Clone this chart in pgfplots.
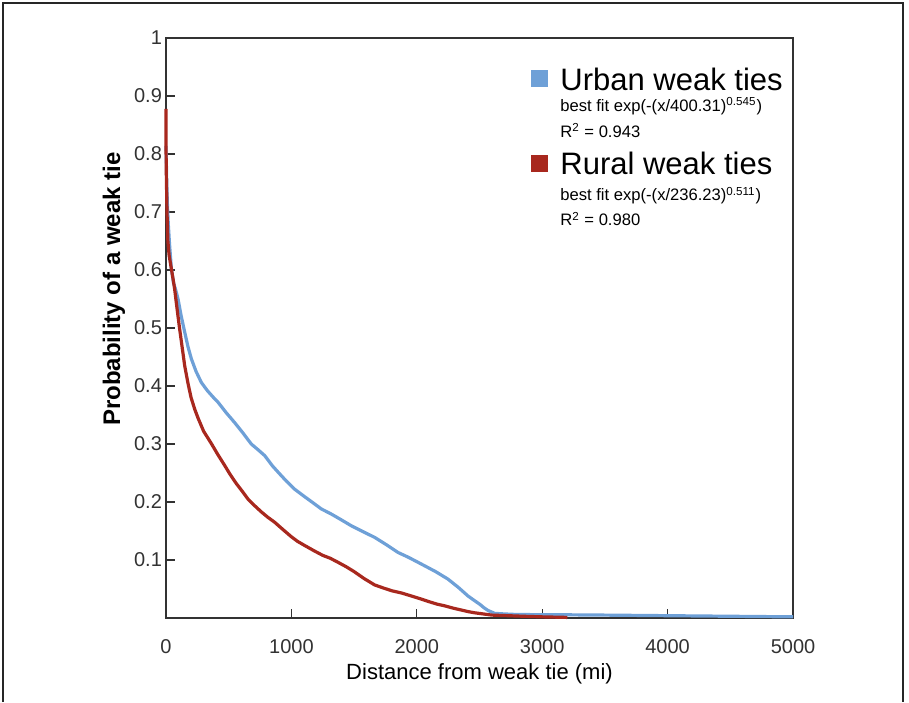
\documentclass[border=0pt]{standalone}
\usepackage{fontspec}
\setmainfont{Liberation Sans}
\usepackage{pgfplots}
\pgfplotsset{compat=1.18}
\definecolor{urban}{RGB}{110,160,215}
\definecolor{rural}{RGB}{168,40,30}
\definecolor{axisgray}{RGB}{50,50,50}

\begin{document}
\begin{tikzpicture}
\useasboundingbox (-83pt,-42pt) rectangle (371.5pt,309pt);
% outer frame of the figure
\draw[line width=1pt, black!85] (-81.5pt,-42pt) -- (-81.5pt,307.5pt) -- (368.5pt,307.5pt) -- (368.5pt,-42pt);
\begin{axis}[
    at={(0,0)}, anchor=south west,
    width=313.5pt, height=290pt,
    scale only axis,
    xmin=0, xmax=5000,
    ymin=0, ymax=1,
    xtick={0,1000,2000,3000,4000,5000},
    ytick={0.1,0.2,0.3,0.4,0.5,0.6,0.7,0.8,0.9,1},
    tick align=inside,
    major tick length=4.5pt,
    tick style={axisgray, line width=0.6pt},
    axis line style={axisgray, line width=1pt},
    xtick pos=bottom, ytick pos=left,
    /pgf/number format/assume math mode=true,
    scaled x ticks=false,
    xticklabel style={/pgf/number format/1000 sep={}, font=\fontsize{10}{12}\selectfont, text=axisgray, yshift=-7pt},
    yticklabel style={/pgf/number format/fixed, /pgf/number format/precision=1, font=\fontsize{10}{12}\selectfont, text=axisgray},
    yticklabel shift={-1.5pt},
    xlabel={Distance from weak tie (mi)},
    ylabel={Probability of a weak tie},
    xlabel style={font=\fontsize{11}{13}\selectfont, at={(axis description cs:0.5,-0.097)}, anchor=center},
    ylabel style={font=\bfseries\fontsize{12}{14}\selectfont, at={(axis description cs:-0.083,0.567)}, anchor=center},
    clip=false,
]
\addplot[urban, line width=1.6pt] coordinates {
(0,0.814) (5,0.76) (10,0.72) (18,0.68) (28,0.645) (43,0.602) (60,0.578)
(78,0.565) (96,0.55) (120,0.522) (149,0.493) (175,0.468) (202,0.447)
(240,0.425) (282,0.406) (330,0.392) (375,0.381) (415,0.372) (480,0.354)
(547,0.337) (610,0.32) (680,0.30) (740,0.289) (787,0.280) (850,0.262)
(900,0.25) (960,0.236) (1026,0.222) (1100,0.21) (1170,0.199) (1239,0.188)
(1320,0.179) (1400,0.169) (1478,0.159) (1570,0.149) (1664,0.139)
(1760,0.126) (1850,0.113) (1930,0.105) (2010,0.096) (2080,0.088)
(2150,0.08) (2249,0.067) (2330,0.053) (2408,0.038) (2460,0.030)
(2500,0.024) (2540,0.017) (2568,0.013) (2621,0.008) (2700,0.007)
(2800,0.006) (3200,0.0055) (3500,0.005) (4000,0.004) (4500,0.003)
(5000,0.002)
};
\addplot[rural, line width=1.6pt] coordinates {
(0,0.878) (0,0.814) (3,0.76) (8,0.70) (15,0.65) (25,0.625) (43,0.602)
(56,0.585) (69,0.567) (90,0.53) (109,0.498) (130,0.465) (149,0.435)
(175,0.405) (200,0.38) (229,0.36) (255,0.345) (300,0.322) (361,0.301)
(410,0.283) (468,0.263) (510,0.248) (560,0.232) (610,0.218) (654,0.205)
(710,0.193) (760,0.183) (810,0.174) (867,0.165) (930,0.153) (1000,0.14)
(1050,0.132) (1106,0.125) (1180,0.116) (1250,0.108) (1310,0.103)
(1372,0.096) (1440,0.088) (1500,0.08) (1580,0.068) (1664,0.057)
(1730,0.052) (1800,0.047) (1880,0.043) (1956,0.038) (2030,0.033)
(2100,0.028) (2160,0.024) (2222,0.021) (2290,0.017) (2350,0.014)
(2410,0.011) (2461,0.009) (2530,0.007) (2600,0.005) (2727,0.004)
(2850,0.003) (3000,0.002) (3200,0.001)
};
% legend block
\fill[urban] (axis cs:2978,0.931) ++(-4.25pt,-4.25pt) rectangle ++(8.5pt,8.5pt);
\node[anchor=base west, inner sep=0pt, font=\fontsize{15.5}{17}\selectfont] at (axis cs:3142,0.910) {Urban weak ties};
\node[anchor=base west, inner sep=0pt, font=\fontsize{8.3}{10}\selectfont] at (axis cs:3142,0.874) {best fit exp(-(x/400.31)\textsuperscript{0.545})};
\node[anchor=base west, inner sep=0pt, font=\fontsize{8.3}{10}\selectfont] at (axis cs:3142,0.829) {R\textsuperscript{2} = 0.943};
\fill[rural] (axis cs:2978,0.784) ++(-4.25pt,-4.25pt) rectangle ++(8.5pt,8.5pt);
\node[anchor=base west, inner sep=0pt, font=\fontsize{15.5}{17}\selectfont] at (axis cs:3142,0.764) {Rural weak ties};
\node[anchor=base west, inner sep=0pt, font=\fontsize{8.3}{10}\selectfont] at (axis cs:3142,0.719) {best fit exp(-(x/236.23)\textsuperscript{0.511})};
\node[anchor=base west, inner sep=0pt, font=\fontsize{8.3}{10}\selectfont] at (axis cs:3142,0.676) {R\textsuperscript{2} = 0.980};
\end{axis}
\end{tikzpicture}
\end{document}
